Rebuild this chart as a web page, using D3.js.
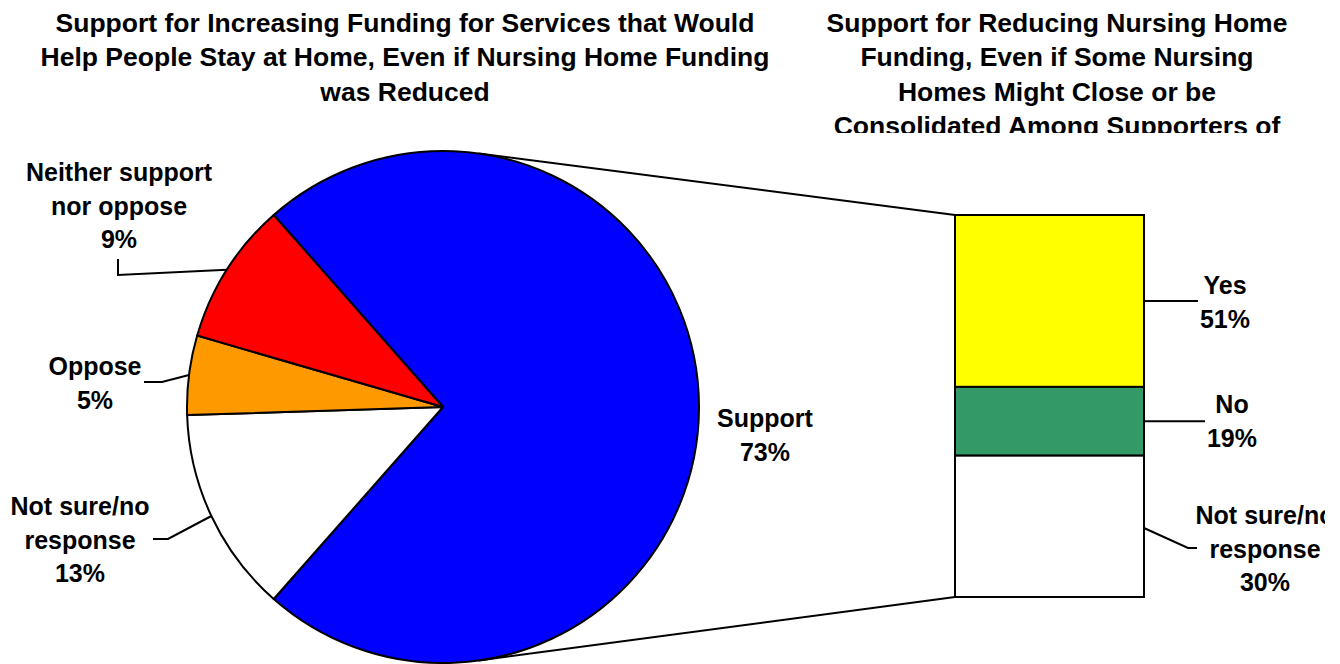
<!DOCTYPE html>
<html>
<head>
<meta charset="utf-8">
<script src="https://cdn.jsdelivr.net/npm/d3@7"></script>
<style>
  body { margin: 0; background: #fff; }
  text { font-family: "Liberation Sans", Arial, sans-serif; font-weight: bold; fill: #000; }
</style>
</head>
<body>
<div class="chart"></div>
<script>
// pie: whole sample
const pieCats = ["Support", "Not sure/no response", "Oppose", "Neither support nor oppose"]
const pieValues = [73, 13, 5, 9]
const pieColors = ["#0000ff", "#ffffff", "#ff9900", "#ff0000"]

// bar: split of supporters (segment sizes, printed labels as shown)
const barCats = ["Yes", "No", "Not sure/no response"]
const barValues = [45, 18, 37]
const barLabels = ["51%", "19%", "30%"]
const barColors = ["#ffff00", "#339966", "#ffffff"]

const titleLeft = ["Support for Increasing Funding for Services that Would",
  "Help People Stay at Home, Even if Nursing Home Funding", "was Reduced"]
const titleRight = ["Support for Reducing Nursing Home", "Funding, Even if Some Nursing",
  "Homes Might Close or be", "Consolidated Among Supporters of"]

const width = 1340, height = 664
const cx = 443, cy = 407, r = 256
const barX = 955, barW = 189

const svg = d3.select(".chart").append("svg")
  .attr("width", width)
  .attr("height", height)

const defs = svg.append("defs")
defs.append("clipPath").attr("id", "plotclip")
  .append("rect").attr("x", 0).attr("y", 133).attr("width", 1325).attr("height", height)
defs.append("clipPath").attr("id", "titleclip")
  .append("rect").attr("x", 0).attr("y", 0).attr("width", width).attr("height", 133)

// titles
function title(lines, x) {
  const t = svg.append("text")
    .attr("clip-path", "url(#titleclip)")
    .attr("text-anchor", "middle")
    .style("font-size", "26.5px")
  lines.forEach((l, i) => {
    t.append("tspan").attr("x", x).attr("y", 32 + i * 34.3).text(l)
  })
}
title(titleLeft, 405)
title(titleRight, 1057)

const plot = svg.append("g").attr("clip-path", "url(#plotclip)")

// pie, support slice centred on the right
const supportAngle = pieValues[0] / d3.sum(pieValues) * 2 * Math.PI
const pie = d3.pie().sort(null).value(d => d)
  .startAngle(Math.PI / 2 - supportAngle / 2)
  .endAngle(Math.PI / 2 - supportAngle / 2 + 2 * Math.PI)
const arcs = pie(pieValues)
const arc = d3.arc().innerRadius(0).outerRadius(r)

const pg = plot.append("g").attr("transform", `translate(${cx},${cy})`)
pg.selectAll("path").data(arcs).enter().append("path")
  .attr("d", arc)
  .attr("fill", (d, i) => pieColors[i])
  .attr("stroke", "#000")
  .attr("stroke-width", 2)
  .attr("stroke-linejoin", "round")

// bar of pie
const yBar = d3.scaleLinear().domain([0, d3.sum(barValues)]).range([215, 597])
let acc = 0
const segs = barValues.map((v, i) => {
  const s = { i: i, y0: acc, y1: acc + v }
  acc += v
  return s
})
plot.selectAll("rect.seg").data(segs).enter().append("rect")
  .attr("class", "seg")
  .attr("x", barX)
  .attr("width", barW)
  .attr("y", d => yBar(d.y0))
  .attr("height", d => yBar(d.y1) - yBar(d.y0))
  .attr("fill", d => barColors[d.i])
  .attr("stroke", "#000")
  .attr("stroke-width", 2)

// connector lines
const conA = 8 * Math.PI / 180
const onPie = (a, rr) => [cx + rr * Math.sin(a), cy - rr * Math.cos(a)]
const conTop = onPie(conA, r), conBot = onPie(Math.PI - conA, r)
plot.append("line").attr("x1", conTop[0]).attr("y1", conTop[1])
  .attr("x2", barX).attr("y2", yBar(0))
  .attr("stroke", "#000").attr("stroke-width", 2)
plot.append("line").attr("x1", conBot[0]).attr("y1", conBot[1])
  .attr("x2", barX).attr("y2", yBar(d3.sum(barValues)))
  .attr("stroke", "#000").attr("stroke-width", 2)

// labels
function label(lines, x, y) {
  const t = plot.append("text").attr("text-anchor", "middle").style("font-size", "25px")
  lines.forEach((l, i) => {
    t.append("tspan").attr("x", x).attr("y", y + i * 33.5).text(l)
  })
}
function leader(pts) {
  plot.append("path").attr("d", d3.line()(pts))
    .attr("fill", "none").attr("stroke", "#000").attr("stroke-width", 2)
}
const pct = v => v + "%"
const mid = d => (d.startAngle + d.endAngle) / 2

label(["Support", pct(pieValues[0])], 765, 427)

label(["Not sure/no", "response", pct(pieValues[1])], 80, 515)
leader([[153, 539], [168, 539], onPie(mid(arcs[1]), r)])

label(["Oppose", pct(pieValues[2])], 95, 375)
leader([[144, 382], [162, 382], onPie(mid(arcs[2]), r)])

label(["Neither support", "nor oppose", pct(pieValues[3])], 119, 181)
leader([[118, 259], [118, 275], onPie(mid(arcs[3]), r)])

// bar labels
const segMid = d => yBar((d.y0 + d.y1) / 2)
label([barCats[0], barLabels[0]], 1225, 294)
leader([[barX + barW, segMid(segs[0])], [1198, segMid(segs[0])]])
label([barCats[1], barLabels[1]], 1232, 413)
leader([[barX + barW, segMid(segs[1])], [1205, segMid(segs[1])]])
label(["Not sure/no", "response", barLabels[2]], 1265, 524)
leader([[barX + barW, 528], [1188, 548], [1197, 548]])
</script>
</body>
</html>
